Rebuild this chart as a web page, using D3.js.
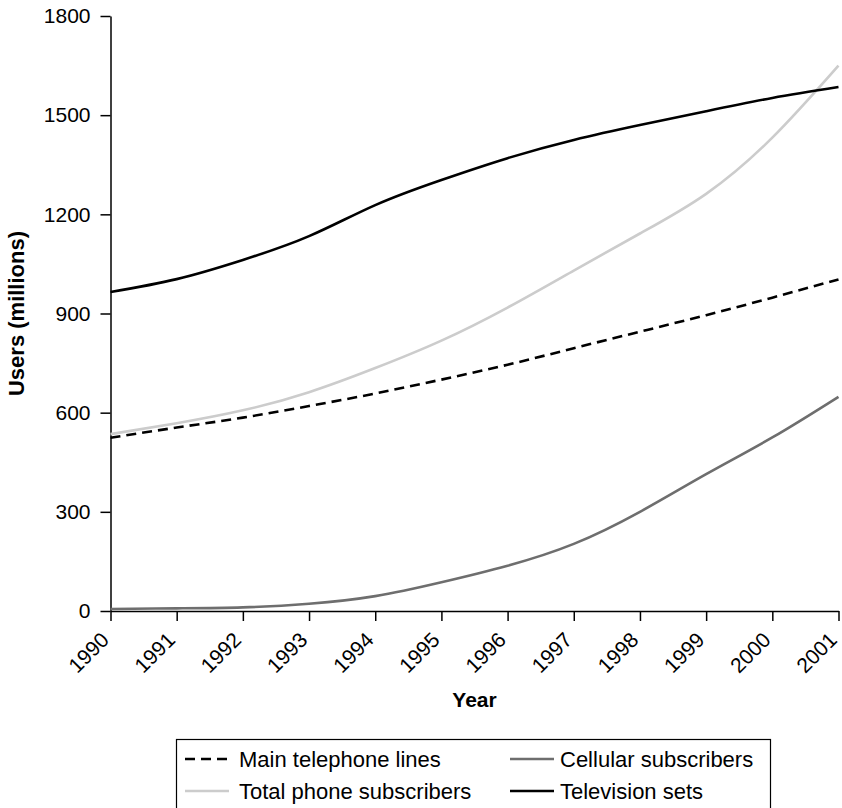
<!DOCTYPE html>
<html>
<head>
<meta charset="utf-8">
<script src="https://cdn.jsdelivr.net/npm/d3@7"></script>
<style>
  html, body { margin: 0; padding: 0; background: #fff; }
  svg { display: block; font-family: "Liberation Sans", Arial, sans-serif; }
</style>
</head>
<body>
<svg id="chart" width="842" height="808"></svg>
<script>
const years = [1990, 1991, 1992, 1993, 1994, 1995, 1996, 1997, 1998, 1999, 2000, 2001];
const mainLines = [524, 555, 585, 620, 658, 700, 745, 795, 845, 895, 948, 1003];
const totalSubscribers = [535, 568, 607, 662, 735, 818, 918, 1030, 1142, 1262, 1432, 1650];
const cellular = [6, 8, 11, 22, 45, 87, 137, 203, 300, 414, 525, 648];
const television = [965, 1004, 1062, 1134, 1228, 1304, 1370, 1425, 1470, 1512, 1552, 1585];
const yTicks = [0, 300, 600, 900, 1200, 1500, 1800];
const seriesNames = ["Main telephone lines", "Cellular subscribers", "Total phone subscribers", "Television sets"];

const svg = d3.select("#chart");
const mLeft = 110.5, mRight = 838.5, mTop = 16, mBottom = 611;

const x = d3.scaleLinear().domain([1990, 2001]).range([mLeft, mRight]);
const y = d3.scaleLinear().domain([0, 1800]).range([mBottom, mTop]);

const styles = {
  "Main telephone lines": { color: "#000", width: 2.6, dash: "10,6" },
  "Cellular subscribers": { color: "#6e6e6e", width: 2.6, dash: null },
  "Total phone subscribers": { color: "#cccccc", width: 2.6, dash: null },
  "Television sets": { color: "#000", width: 2.6, dash: null }
};
const dataMap = {
  "Main telephone lines": mainLines,
  "Cellular subscribers": cellular,
  "Total phone subscribers": totalSubscribers,
  "Television sets": television
};

// Axes
const xAxis = svg.append("g")
  .attr("transform", `translate(0,${mBottom})`)
  .call(d3.axisBottom(x).tickValues(years).tickFormat(d3.format("d")).tickSize(10).tickSizeOuter(0));
xAxis.selectAll("text")
  .attr("font-size", 21)
  .attr("fill", "#000")
  .attr("text-anchor", "end")
  .attr("x", 0).attr("y", 0)
  .attr("dy", "0.35em")
  .attr("transform", "translate(-6,25) rotate(-45)");

const yAxis = svg.append("g")
  .attr("transform", `translate(${mLeft},0)`)
  .call(d3.axisLeft(y).tickValues(yTicks).tickFormat(d3.format("d")).tickSize(10).tickPadding(10).tickSizeOuter(0));
yAxis.selectAll("text").attr("font-size", 21).attr("fill", "#000");

svg.selectAll(".domain, .tick line").attr("stroke", "#000").attr("stroke-width", 1.5);

// Axis titles
svg.append("text")
  .attr("transform", `translate(24,${(mTop + mBottom) / 2}) rotate(-90)`)
  .attr("text-anchor", "middle")
  .attr("font-weight", "bold")
  .attr("font-size", 22)
  .text("Users (millions)");
svg.append("text")
  .attr("x", (mLeft + mRight) / 2).attr("y", 707)
  .attr("text-anchor", "middle")
  .attr("font-weight", "bold")
  .attr("font-size", 21)
  .text("Year");

// Lines
const line = d3.line().x((d, i) => x(years[i])).y(d => y(d)).curve(d3.curveNatural);
const drawOrder = ["Total phone subscribers", "Cellular subscribers", "Main telephone lines", "Television sets"];
drawOrder.forEach(name => {
  const s = styles[name];
  svg.append("path")
    .datum(dataMap[name])
    .attr("d", line)
    .attr("fill", "none")
    .attr("stroke", s.color)
    .attr("stroke-width", s.width)
    .attr("stroke-dasharray", s.dash);
});

// Legend
const lg = svg.append("g");
lg.append("rect").attr("x", 176.5).attr("y", 739.5).attr("width", 594).attr("height", 80)
  .attr("fill", "#fff").attr("stroke", "#000").attr("stroke-width", 1.2);
const legendItems = [
  { name: "Main telephone lines", col: 0, row: 0 },
  { name: "Cellular subscribers", col: 1, row: 0 },
  { name: "Total phone subscribers", col: 0, row: 1 },
  { name: "Television sets", col: 1, row: 1 }
];
const colX = [185, 510], colText = [239, 560], rowY = [759, 791];
legendItems.forEach(it => {
  const s = styles[it.name];
  const lx = colX[it.col], ly = rowY[it.row];
  lg.append("line").attr("x1", lx).attr("x2", lx + 44).attr("y1", ly).attr("y2", ly)
    .attr("stroke", s.color).attr("stroke-width", s.width).attr("stroke-dasharray", s.dash);
  lg.append("text").attr("x", colText[it.col]).attr("y", ly).attr("dy", "0.35em")
    .attr("font-size", 22).text(it.name);
});
</script>
</body>
</html>
